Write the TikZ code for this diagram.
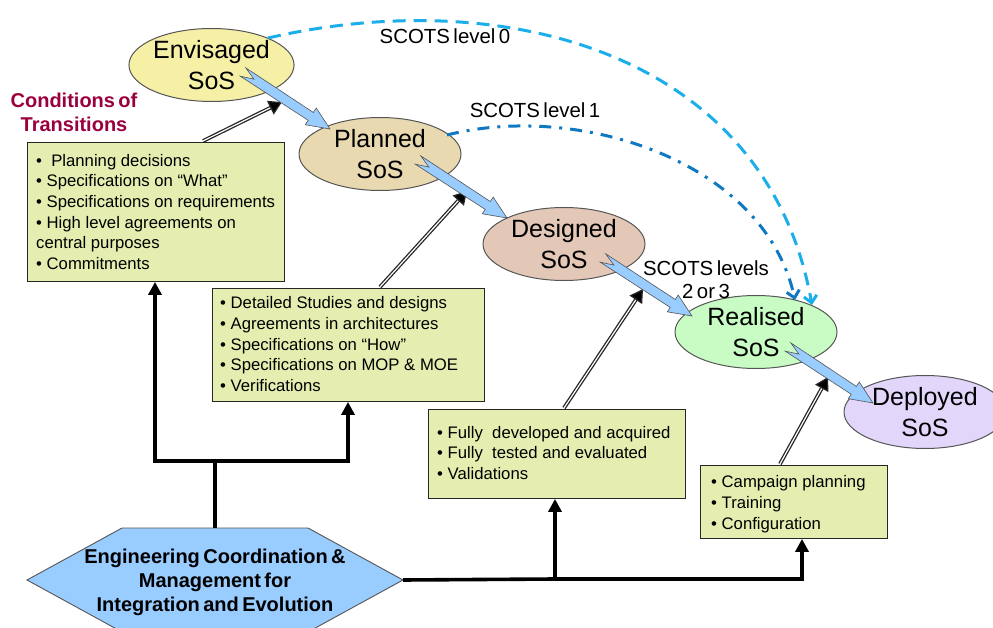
\documentclass[tikz,border=0pt]{standalone}
\usepackage{fontspec}
\setmainfont{Liberation Sans}
\usetikzlibrary{calc,arrows.meta,shapes.geometric}
\definecolor{boxfill}{HTML}{E5EEB0}
\definecolor{hexfill}{HTML}{99CCFF}
\definecolor{blockfill}{HTML}{99CCFF}
\definecolor{envfill}{HTML}{F6EFA6}
\definecolor{planfill}{HTML}{E8D9B0}
\definecolor{desfill}{HTML}{E3C8B8}
\definecolor{realfill}{HTML}{C8FCC4}
\definecolor{depfill}{HTML}{E2D6FA}
\definecolor{darkred}{HTML}{99003C}
\definecolor{arcA}{HTML}{1CAEE8}
\definecolor{arcB}{HTML}{0F78C0}
\definecolor{edge}{HTML}{555555}
\newcommand{\tightsp}{\spaceskip=0.17em plus 0.05em\relax}
\tikzset{
  sos/.style={draw=edge,line width=1pt,ellipse,minimum width=162pt,minimum height=73pt,inner sep=0pt,
    align=center,font=\fontsize{25}{31}\selectfont},
  listbox/.style={draw=black!85,line width=0.9pt,fill=boxfill,anchor=north west,inner sep=0pt},
  listtext/.style={font=\fontsize{16.7}{20.6}\selectfont,align=left,anchor=north west,inner sep=0pt},
  lab/.style={font=\fontsize{20.4}{23}\selectfont\tightsp,align=center},
  thickline/.style={line width=3.6pt,black},
  thickarrow/.style={thickline,-{Triangle[length=13pt,width=13pt]}},
  condarrow/.style={double=white,double distance=1.2pt,line width=1.3pt,draw=black!85,
    -{Triangle[length=13pt,width=15pt,fill=black]}},
  blockarrow/.style={draw=edge,line width=0.6pt,fill=blockfill,line join=miter},
  arcone/.style={arcA,line width=3pt,dash pattern=on 13pt off 8pt,-{Straight Barb[length=7pt,width=13pt]}},
  arctwo/.style={arcB,line width=3pt,dash pattern=on 12pt off 8pt on 3pt off 8pt,-{Straight Barb[length=7pt,width=13pt]}},
}
\newcommand{\blockarr}[2]{%
  \coordinate (n) at ($(#2)!23pt!(#1)$);
  \coordinate (nk) at ($(#1)!13pt!(#2)$);
  \draw[blockarrow]
    ($(#1)!5pt!90:(#2)$) -- ($(n)!4.7pt!-90:(#1)$) -- ($(n)!10pt!-90:(#1)$) -- (#2)
    -- ($(n)!10pt!90:(#1)$) -- ($(n)!4.7pt!90:(#1)$)
    -- ($(#1)!5pt!-90:(#2)$) -- (nk) -- cycle;}
\begin{document}
\begin{tikzpicture}[x=1pt,y=-1pt]
\useasboundingbox (0,0) rectangle (993,628);
% ellipses
\node[sos,fill=envfill]  (env)  at (211.5,65) {Envisaged\\SoS};
\node[sos,fill=planfill] (plan) at (380,154)  {Planned\\SoS};
\node[sos,fill=desfill]  (des)  at (564,244)  {Designed\\SoS};
\node[sos,fill=realfill] (real) at (756,332)  {Realised\\SoS};
\node[sos,fill=depfill]  (dep)  at (925,412)  {Deployed\\SoS};
% boxes
\node[listbox,minimum width=257pt,minimum height=139pt] (b1) at (27,142) {};
\node[listbox,minimum width=272pt,minimum height=113pt] (b2) at (212,288) {};
\node[listbox,minimum width=257pt,minimum height=89pt] (b3) at (428,409) {};
\node[listbox,minimum width=187pt,minimum height=73pt] (b4) at (700,465) {};
\node[listtext] (t1) at (36,154)
  {\textbullet\ \ Planning decisions\\\textbullet\ Specifications on “What”\\\textbullet\ Specifications on requirements\\\textbullet\ High level agreements on\\central purposes\\\textbullet\ Commitments};
\node[listtext] (t2) at (220,296.5)
  {\textbullet\ Detailed Studies and designs\\\textbullet\ Agreements in architectures\\\textbullet\ Specifications on “How”\\\textbullet\ Specifications on MOP \& MOE\\\textbullet\ Verifications};
\node[listtext] (t3) at (437,426)
  {\textbullet\ Fully\ \ developed and acquired\\\textbullet\ Fully\ \ tested and evaluated\\\textbullet\ Validations};
\node[listtext] (t4) at (711,475.5)
  {\textbullet\ Campaign planning\\\textbullet\ Training\\\textbullet\ Configuration};
% hexagon
\coordinate (hl) at (27,580); \coordinate (hr) at (403,580);
\coordinate (hT) at (215,528);
\filldraw[fill=hexfill,draw=edge,line width=0.9pt] (hl) -- (122,528) -- (308,528) -- (hr) -- (308,632) -- (122,632) -- cycle;
\node[align=center,font=\bfseries\fontsize{20}{24}\selectfont\tightsp,inner sep=0pt] (hex) at (215,582)
  {Engineering Coordination \&\\Management for\\Integration and Evolution};
% thick connectors
\coordinate (j1) at (215,461);
\coordinate (j1l) at (155,461);
\coordinate (j1r) at (348,461);
\draw[thickline] (hT) -- (j1);
\draw[thickarrow,line join=miter] (j1) -- (j1l) -- (b1.south -| j1l);
\draw[thickarrow,line join=miter] (j1) -- (j1r) -- (b2.south -| j1r);
\coordinate (j2) at (555,579);
\coordinate (j2r) at (802,579);
\draw[thickline] (hr) -- (j2);
\draw[thickarrow] (j2) -- (b3.south -| j2);
\draw[thickarrow,line join=miter] (j2) -- (j2r) -- (b4.south -| j2r);
% condition arrows
\coordinate (c1) at (282,102);
\coordinate (c2) at (467,191);
\coordinate (c3) at (643,289);
\coordinate (c4) at (828,377);
\draw[condarrow] (203,141) -- (c1);
\draw[condarrow] (380,287) -- (c2);
\draw[condarrow] (564,408) -- (c3);
\draw[condarrow] (780,464) -- (c4);
% block arrows
\coordinate (a1s) at (243,72);  \coordinate (a1e) at (330,129);
\coordinate (a2s) at (418,160); \coordinate (a2e) at (507,218);
\coordinate (a3s) at (603,258); \coordinate (a3e) at (692,316);
\coordinate (a4s) at (788,347); \coordinate (a4e) at (873,403);
\blockarr{a1s}{a1e}
\blockarr{a2s}{a2e}
\blockarr{a3s}{a3e}
\blockarr{a4s}{a4e}
% arcs
\coordinate (p0s) at (268,38);  \coordinate (p0e) at (812,305);
\coordinate (p1s) at (447,135); \coordinate (p1e) at (795,300);
\draw[arcone] (p0s) .. controls (508,-17) and (767,55) .. (p0e);
\draw[arctwo] (p1s) .. controls (577,102) and (764,160) .. (p1e);
% labels
\node[lab] (s0) at (445,36) {SCOTS level 0};
\node[lab] (s1) at (535,110) {SCOTS level 1};
\node[lab] (s2) at (706,280) {SCOTS levels\\2 or 3};
\node[font=\bfseries\fontsize{20}{24}\selectfont\tightsp,text=darkred,align=center,inner sep=0pt] (cond) at (74,112) {Conditions of\\Transitions};
\end{tikzpicture}
\end{document}
